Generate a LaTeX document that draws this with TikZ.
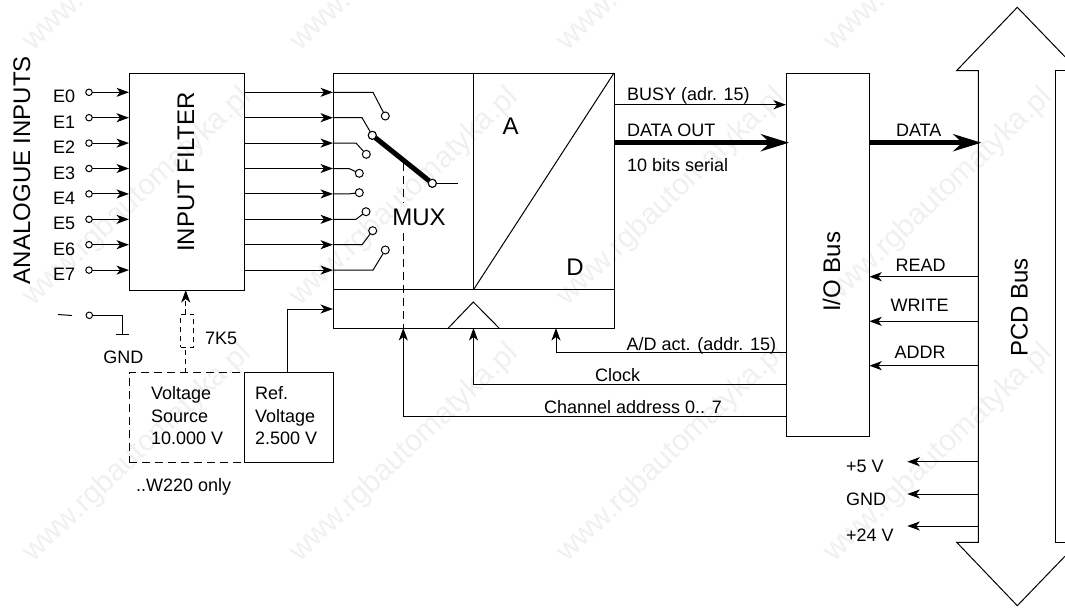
\documentclass[tikz,border=0pt]{standalone}
\usepackage{fontspec}
\setmainfont{Liberation Sans}
\usetikzlibrary{arrows.meta}
\tikzset{
  x=1pt,y=-1pt,
  wire/.style={line width=1pt,black},
  arr/.style={wire,-{Stealth[length=12.5pt,width=9pt,inset=3.5pt]}},
  fat/.style={line width=5pt,-{Stealth[length=28pt,width=17pt,inset=9pt]},shorten >=-3pt},
  blockbox/.style={draw,line width=1pt,inner sep=0,outer sep=0,rectangle},
  term/.style={draw,circle,line width=1pt,fill=white,inner sep=0,outer sep=0,minimum size=#1},
  term/.default=6.5pt,
  lbl/.style={inner sep=0,outer sep=0,anchor=base west,font=\fontsize{18}{18}\selectfont,text=black},
  big/.style={inner sep=0,outer sep=0,anchor=base,font=\fontsize{24}{24}\selectfont,text=black},
  wmark/.style={inner sep=0,rotate=43.5,anchor=base west,font=\fontsize{30}{30}\selectfont,text=black!6},
}
\begin{document}
\begin{tikzpicture}
\useasboundingbox (0,0) rectangle (1065,608);
% watermark
\begin{scope}
\clip (0,0) rectangle (1065,608);
\foreach \i/\wx in {0/33,1/300,2/567,3/834}
  \foreach \j/\wy in {0/52,1/307,2/563}
    \node[wmark] (wm\i\j) at (\wx,\wy) {www.rgbautomatyka.pl};
\end{scope}
% blocks
\node[blockbox,minimum width=115.5pt,minimum height=217pt] (filter) at (186.75,181.5) {};
\node[blockbox,minimum width=281pt,minimum height=255pt] (adc) at (473.5,200.5) {};
\node[blockbox,minimum width=83.3pt,minimum height=362.7pt] (io) at (827.65,254.65) {};
\node[blockbox,minimum width=89.3pt,minimum height=89.3pt] (ref) at (288.65,417.35) {};
\node[draw,dash pattern=on 8pt off 5pt,line width=1pt,inner sep=0,outer sep=0,minimum width=115pt,minimum height=89.3pt] (vsrc) at (186.5,417.35) {};
\node[draw,dash pattern=on 5pt off 4pt,line width=1pt,inner sep=0,outer sep=0,minimum width=13pt,minimum height=33pt] (res) at (187.2,330.8) {};
% ADC inner rules
\coordinate (hl) at (0,289.7);
\draw[wire] (adc.north) -- (adc.north |- hl);
\draw[wire] (hl -| adc.west) -- (hl -| adc.east);
\draw[wire] (adc.north |- hl) -- (adc.north east);
\coordinate (tl) at (448.3,328); \coordinate (ta) at (473.3,302); \coordinate (tr) at (499,328);
\draw[wire] (tl) -- (ta) -- (tr);
% inputs and filter outputs
\foreach \i/\y/\kx/\mx/\my in {0/92.3/373/385.3/116,1/117.7/362/372.3/135.3,2/143.1/356/366.3/154.3,3/168.5/349/359.3/173.3,4/193.9/349/359.3/192.7,5/219.3/356/366/211.7,6/244.7/362/372.7/230.7,7/270.1/373/385.3/250}{
  \node[term] (e\i) at (89,\y) {};
  \node[lbl] (el\i) at (53,\y+10.5) {E\i};
  \draw[arr] (e\i) -- (e\i -| filter.west);
  \draw[arr] (e\i -| filter.east) -- (e\i -| adc.west);
  \node[term=8pt] (m\i) at (\mx,\my) {};
  \coordinate (k\i) at (\kx,\y);
  \draw[wire] (e\i -| adc.west) -- (k\i) -- (m\i);
}
% switch arm
\node[term=8pt] (pole) at (432.3,183.3) {};
\coordinate (poleout) at (458.3,183.3);
\draw[line width=5pt] (m1) -- (pole);
\node[term=8pt] at (m1) {};
\node[term=8pt] at (pole) {};
\draw[wire] (pole) -- (poleout);
% MUX dashed control
\coordinate (c1) at (403.3,163); \coordinate (c2) at (403.3,203);
\coordinate (c3) at (403.3,233);
\draw[wire,dash pattern=on 8pt off 5pt] (c1) -- (c2);
\draw[wire,dash pattern=on 8pt off 5pt] (c3) -- (c3 |- adc.south);
% lower control lines
\coordinate (ychan) at (0,416.3); \coordinate (yclk) at (0,384.3); \coordinate (yact) at (0,352.3);
\coordinate (xact) at (556,0);
\draw[arr] (ychan -| io.west) -- (ychan -| c1) -- (c1 |- adc.south);
\draw[arr] (yclk -| io.west) -- (yclk -| adc.south) -- (adc.south);
\draw[arr] (yact -| io.west) -- (yact -| xact) -- (xact |- adc.south);
% bus and its links
\coordinate (btip) at (1017.3,7.3);
\coordinate (bbot) at (1017.3,605.7);
\draw[wire,line join=miter] (1065,56.8) -- (btip) -- (956.7,70.5) -- (978.3,70.5) -- (978.3,542.3) -- (956.7,542.3) -- (bbot) -- (1065,556.2);
\draw[wire] (1065,70.5) -- (1055.7,70.5) -- (1055.7,542.3) -- (1065,542.3);
\coordinate (busl) at (978.3,0);
\coordinate (ybusy) at (0,104.7); \coordinate (ydata) at (0,142.7);
\coordinate (yrd) at (0,276.7); \coordinate (ywr) at (0,321.3); \coordinate (yad) at (0,365.7);
\coordinate (y5) at (0,461.7); \coordinate (yg) at (0,494); \coordinate (y24) at (0,526);
\coordinate (xp) at (907.3,0);
\draw[arr] (ybusy -| adc.east) -- (ybusy -| io.west);
\draw[fat] (ydata -| adc.east) -- (ydata -| io.west);
\draw[fat] (ydata -| io.east) -- (ydata -| busl);
\draw[arr] (yrd -| busl) -- (yrd -| io.east);
\draw[arr] (ywr -| busl) -- (ywr -| io.east);
\draw[arr] (yad -| busl) -- (yad -| io.east);
\draw[arr] (y5 -| busl) -- (y5 -| xp);
\draw[arr] (yg -| busl) -- (yg -| xp);
\draw[arr] (y24 -| busl) -- (y24 -| xp);
% GND terminal
\node[term] (gt) at (89.3,315.3) {};
\coordinate (dashl) at (58,314.5); \coordinate (dashr) at (72,315.5);
\draw[wire] (dashl) -- (dashr);
\coordinate (gc) at (122.3,315.3); \coordinate (gb) at (122.3,334);
\coordinate (gl) at (116,334); \coordinate (gr) at (129,334);
\draw[wire] (gt) -- (gc) -- (gb);
\draw[wire] (gl) -- (gr);
% voltage feeds
\coordinate (xres) at (185.7,0); \coordinate (xref) at (287.7,0); \coordinate (yref) at (0,309);
\draw[wire,dash pattern=on 5pt off 4pt] (xres |- vsrc.north) -- (xres |- res.south);
\draw[wire,dash pattern=on 5pt off 3pt,-{Stealth[length=12.5pt,width=9pt,inset=3.5pt]}] (xres |- res.north) -- (xres |- filter.south);
\draw[arr] (xref |- ref.north) -- (xref |- yref) -- (yref -| adc.west);
% text
\node[big,rotate=90] (tana) at (30,170) {ANALOGUE INPUTS};
\node[big,rotate=90] (tfil) at (194,172) {INPUT FILTER};
\node[big,rotate=90] (tio) at (840,271.7) {I/O Bus};
\node[big,rotate=90] (tpcd) at (1027.7,307.5) {PCD Bus};
\node[big] (tmux) at (419,225) {MUX};
\node[big] (ta2) at (510.7,134) {A};
\node[big] (td) at (575,275) {D};
\node[lbl] (t1) at (627,100) {BUSY (adr. 15)};
\node[lbl] (t2) at (627,136) {DATA OUT};
\node[lbl] (t3) at (627,171.7) {10 bits serial};
\node[lbl] (t4) at (896,136) {DATA};
\node[lbl] (t5) at (626.7,350) {A/D act. (addr. 15)};
\node[lbl,anchor=base] (t6) at (617.7,381.7) {Clock};
\node[lbl] (t7) at (544,413.3) {Channel address 0.. 7};
\node[lbl,anchor=base] (t8) at (920.5,271.7) {READ};
\node[lbl,anchor=base] (t9) at (919.7,311.7) {WRITE};
\node[lbl,anchor=base] (t10) at (920,358.7) {ADDR};
\node[lbl] (t11) at (846,472.7) {+5 V};
\node[lbl] (t12) at (846,505) {GND};
\node[lbl] (t13) at (846,541.7) {+24 V};
\node[lbl] (t14) at (103.3,363.3) {GND};
\node[lbl] (t15) at (205,344.3) {7K5};
\node[lbl] (t16) at (151,399) {Voltage};
\node[lbl] (t17) at (151,422.3) {Source};
\node[lbl] (t18) at (151,444) {10.000 V};
\node[lbl] (t19) at (255,399) {Ref.};
\node[lbl] (t20) at (255,422.3) {Voltage};
\node[lbl] (t21) at (255,444) {2.500 V};
\node[lbl] (t22) at (136,491) {..W220 only};
\end{tikzpicture}
\end{document}
